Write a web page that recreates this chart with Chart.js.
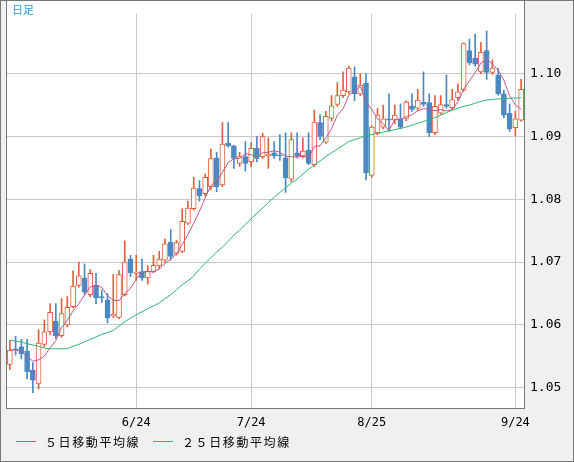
<!DOCTYPE html>
<html>
<head>
<meta charset="utf-8">
<script src="https://cdn.jsdelivr.net/npm/chart.js@4"></script>
<style>
  html, body { margin: 0; padding: 0; background: #f0f0f0; }
  #wrap { position: relative; width: 574px; height: 462px; }
</style>
</head>
<body>
<div id="wrap"><canvas id="c" width="574" height="462"></canvas></div>
<script>
// OHLC, one per trading day
const opens  = [1.0537,1.0562,1.0565,1.0558,1.0528,1.0506,1.0569,1.0589,1.0606,1.0583,1.0600,1.0629,1.0663,1.0675,1.0648,1.0663,1.0645,1.0640,1.0614,1.0612,
  1.0648,1.0705,1.0682,1.0685,1.0675,1.0685,1.0694,1.0703,1.0732,1.0714,1.0717,1.0762,1.0785,1.0817,1.0809,1.0820,1.0866,1.0823,1.0889,1.0885,
  1.0857,1.0868,1.0860,1.0881,1.0868,1.0869,1.0874,1.0871,1.0866,1.0832,1.0874,1.0869,1.0878,1.0855,1.0922,1.0891,1.0929,1.0951,1.0965,1.0971,
  1.0995,1.0968,1.0985,1.0838,1.0906,1.0915,1.0928,1.0926,1.0928,1.0929,1.0949,1.0945,1.0955,1.0954,1.0906,1.0937,1.0951,1.0946,1.0962,1.0974,
  1.1037,1.1025,1.1003,1.1037,1.1002,1.0998,1.0968,1.0937,1.0914,1.0926];
const highs  = [1.0575,1.0582,1.0577,1.0577,1.0540,1.0592,1.0608,1.0634,1.0634,1.0642,1.0645,1.0686,1.0700,1.0697,1.0688,1.0682,1.0655,1.0650,1.0680,1.0687,
  1.0734,1.0711,1.0711,1.0705,1.0694,1.0711,1.0717,1.0737,1.0752,1.0735,1.0785,1.0797,1.0835,1.0830,1.0840,1.0880,1.0875,1.0922,1.0922,1.0886,
  1.0875,1.0892,1.0890,1.0900,1.0905,1.0898,1.0892,1.0903,1.0906,1.0906,1.0906,1.0898,1.0906,1.0942,1.0935,1.0940,1.0965,1.0986,1.1003,1.1012,
  1.1011,1.1000,1.1000,1.0917,1.0945,1.0950,1.0968,1.0950,1.0952,1.0957,1.0968,1.0975,1.1003,1.0968,1.0965,1.0965,1.0998,1.0975,1.0984,1.1049,
  1.1055,1.1063,1.1050,1.1068,1.1022,1.1008,1.0974,1.0952,1.0940,1.0991];
const lows   = [1.0529,1.0552,1.0546,1.0514,1.0492,1.0498,1.0565,1.0585,1.0578,1.0580,1.0597,1.0627,1.0660,1.0648,1.0645,1.0634,1.0636,1.0603,1.0612,1.0610,
  1.0646,1.0677,1.0671,1.0671,1.0665,1.0683,1.0690,1.0700,1.0703,1.0711,1.0715,1.0760,1.0783,1.0797,1.0805,1.0815,1.0812,1.0820,1.0883,1.0849,
  1.0852,1.0845,1.0852,1.0860,1.0865,1.0849,1.0865,1.0862,1.0811,1.0828,1.0866,1.0866,1.0855,1.0852,1.0895,1.0889,1.0925,1.0948,1.0962,1.0968,
  1.0957,1.0965,1.0831,1.0835,1.0903,1.0912,1.0908,1.0920,1.0912,1.0925,1.0940,1.0942,1.0948,1.0900,1.0903,1.0935,1.0945,1.0943,1.0958,1.0972,
  1.1014,1.1012,1.1000,1.0991,1.0999,1.0966,1.0930,1.0908,1.0901,1.0924];
const closes = [1.0560,1.0560,1.0554,1.0525,1.0512,1.0571,1.0589,1.0620,1.0583,1.0618,1.0628,1.0662,1.0678,1.0652,1.0682,1.0643,1.0643,1.0611,1.0617,1.0680,
  1.0700,1.0683,1.0684,1.0675,1.0685,1.0695,1.0705,1.0729,1.0709,1.0731,1.0765,1.0786,1.0818,1.0806,1.0835,1.0865,1.0820,1.0888,1.0885,1.0865,
  1.0868,1.0857,1.0881,1.0865,1.0900,1.0872,1.0869,1.0869,1.0834,1.0895,1.0869,1.0877,1.0857,1.0923,1.0900,1.0932,1.0949,1.0965,1.0974,1.1009,
  1.0968,1.0982,1.0842,1.0915,1.0934,1.0928,1.0926,1.0934,1.0915,1.0955,1.0943,1.0958,1.0951,1.0906,1.0948,1.0951,1.0948,1.0959,1.0971,1.1048,
  1.1017,1.1015,1.1034,1.1002,1.1009,1.0968,1.0934,1.0912,1.0928,1.0975];
// 25-day average as drawn (it carries history from before the first candle)
const ma25 = [1.0576,1.0574,1.0573,1.0570,1.0568,1.0566,1.0563,1.0562,1.0562,1.0562,1.0562,1.0566,1.0569,1.0573,1.0577,1.0581,1.0585,1.0588,1.0591,1.0598,
  1.0605,1.0611,1.0616,1.0621,1.0626,1.0630,1.0635,1.0642,1.0648,1.0656,1.0664,1.0670,1.0678,1.0689,1.0698,1.0707,1.0716,1.0724,1.0733,1.0743,
  1.0751,1.0760,1.0769,1.0778,1.0786,1.0795,1.0803,1.0811,1.0818,1.0826,1.0832,1.0840,1.0848,1.0855,1.0861,1.0868,1.0874,1.0880,1.0886,1.0892,
  1.0895,1.0898,1.0902,1.0903,1.0905,1.0907,1.0909,1.0911,1.0913,1.0915,1.0918,1.0921,1.0924,1.0927,1.0930,1.0934,1.0938,1.0942,1.0945,1.0948,
  1.0950,1.0953,1.0956,1.0958,1.0959,1.0960,1.0960,1.0961,1.0961,1.0962];
const tickIdx = [22, 42, 63, 88];
const tickText = ['6/24', '7/24', '8/25', '9/24'];
const yTicks = [1.05, 1.06, 1.07, 1.08, 1.09, 1.10];

const UP = '#e0603c', DOWN = '#4a89c2';
const labels = closes.map((_, i) => i);
const ma5 = closes.map((_, i) => {
  const s = closes.slice(Math.max(0, i - 4), i + 1);
  return s.reduce((a, b) => a + b, 0) / s.length;
});
const isUp = closes.map((c, i) => c >= opens[i]);
const bodies = opens.map((o, i) => {
  let lo = Math.min(o, closes[i]), hi = Math.max(o, closes[i]);
  if (hi - lo < 0.00012) hi = lo + 0.00012;
  return [lo, hi];
});
const wicks = lows.map((l, i) => [l, highs[i]]);

const frame = {
  id: 'frame',
  beforeDraw(chart) {
    const { ctx, chartArea: a } = chart;
    ctx.save();
    ctx.fillStyle = '#fff';
    ctx.fillRect(a.left, 0, a.right - a.left, a.bottom);
    ctx.restore();
  },
  afterDraw(chart) {
    const { ctx, chartArea: a } = chart;
    ctx.save();
    ctx.strokeStyle = '#777';
    ctx.lineWidth = 1;
    ctx.strokeRect(a.left - 0.5, -0.5, a.right - a.left + 1, a.bottom + 1);
    ctx.strokeRect(0.5, 0.5, 573, 461);
    ctx.font = '11px "Noto Sans CJK JP"';
    ctx.fillStyle = '#2aa0d4';
    ctx.textBaseline = 'top';
    ctx.fillText('日足', 12, 4);
    // legend
    const items = [['５日移動平均線', '#c0578a', 16], ['２５日移動平均線', '#2cb872', 153]];
    ctx.font = '12px "Noto Sans CJK JP"';
    ctx.textBaseline = 'middle';
    items.forEach(([t, col, x]) => {
      ctx.strokeStyle = col;
      ctx.beginPath(); ctx.moveTo(x, 441.5); ctx.lineTo(x + 20, 441.5); ctx.stroke();
      ctx.fillStyle = '#000';
      let cx = x + 29;
      for (const ch of t) { ctx.fillText(ch, cx, 442); cx += 13.6; }
    });
    ctx.restore();
  }
};

new Chart(document.getElementById('c'), {
  type: 'bar',
  data: {
    labels: labels,
    datasets: [
      { type: 'line', data: ma25, borderColor: '#2cb872', borderWidth: 1, pointRadius: 0, order: 0 },
      { type: 'line', data: ma5, borderColor: '#c0578a', borderWidth: 1, pointRadius: 0, order: 1 },
      { data: bodies, backgroundColor: isUp.map(u => u ? '#fff' : DOWN), borderColor: isUp.map(u => u ? UP : DOWN),
        borderWidth: 1, borderSkipped: false, barThickness: 5, grouped: false, order: 2 },
      { data: wicks, backgroundColor: isUp.map(u => u ? UP : DOWN), borderWidth: 0, barThickness: 1, grouped: false, order: 3 }
    ]
  },
  options: {
    responsive: false,
    animation: false,
    layout: { padding: { left: 7, top: -14, right: 0, bottom: 0 } },
    plugins: { legend: { display: false }, tooltip: { enabled: false } },
    scales: {
      x: {
        offset: true,
        afterFit: s => { s.height = 54; },
        grid: { offset: false, drawTicks: false, color: c => tickIdx.includes(c.index) ? '#c8c8c8' : 'transparent' },
        border: { display: false },
        ticks: { autoSkip: false, maxRotation: 0, padding: 8, color: '#000', font: { family: 'DejaVu Sans Mono', size: 12 },
          callback: (v, i) => { const k = tickIdx.indexOf(i); return k >= 0 ? tickText[k] : ''; } }
      },
      y: {
        position: 'right',
        min: 1.04677, max: 1.10954,
        afterFit: s => { s.width = 50; },
        afterBuildTicks: s => { s.ticks = yTicks.map(v => ({ value: v })); },
        grid: { color: '#c8c8c8', drawTicks: false },
        border: { display: false },
        ticks: { padding: 6, color: '#000', font: { family: 'DejaVu Sans Mono', size: 13 }, callback: v => v.toFixed(2) }
      }
    }
  },
  plugins: [frame]
});
</script>
</body>
</html>
